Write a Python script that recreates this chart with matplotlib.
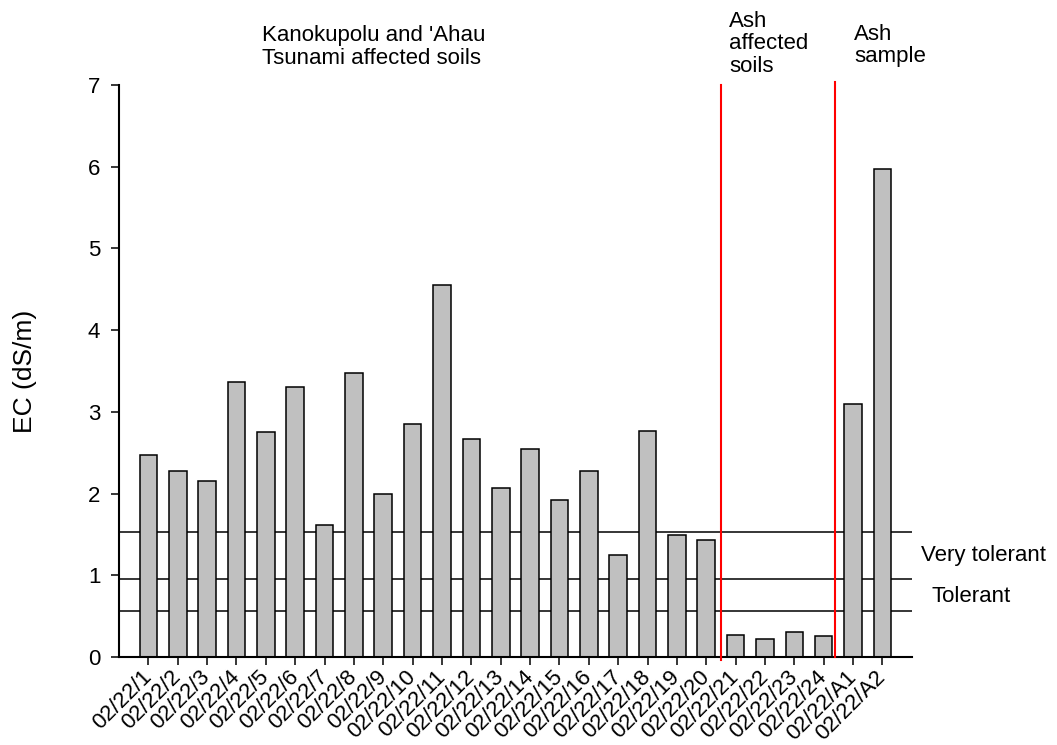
import matplotlib
matplotlib.use("Agg")
import matplotlib.pyplot as plt

plt.rcParams['font.family'] = ['Liberation Sans', 'DejaVu Sans']

samples = ["02/22/1", "02/22/2", "02/22/3", "02/22/4", "02/22/5", "02/22/6",
           "02/22/7", "02/22/8", "02/22/9", "02/22/10", "02/22/11", "02/22/12",
           "02/22/13", "02/22/14", "02/22/15", "02/22/16", "02/22/17", "02/22/18",
           "02/22/19", "02/22/20", "02/22/21", "02/22/22", "02/22/23", "02/22/24",
           "02/22/A1", "02/22/A2"]
ec = [2.47, 2.27, 2.15, 3.36, 2.75, 3.30, 1.61, 3.48, 1.99, 2.85, 4.55, 2.67,
      2.07, 2.54, 1.92, 2.27, 1.25, 2.77, 1.49, 1.43, 0.27, 0.22, 0.31, 0.26,
      3.09, 5.97]

# salt tolerance thresholds (dS/m)
thresholds = [1.53, 0.96, 0.56]
# group separators, between sample positions
separators = [19.49, 23.37]

fig = plt.figure(figsize=(10.57, 7.45), dpi=100)
ax = fig.add_axes([0.1126, 0.1181, 0.750, 0.768])

x = list(range(len(samples)))
ax.bar(x, ec, width=0.6, color='#c0c0c0', edgecolor='black', linewidth=1.1, zorder=2)

for t in thresholds:
    ax.axhline(t, color='black', linewidth=1.1, zorder=1)

ax.plot([separators[0]] * 2, [-0.04, 7.0], color='red', linewidth=1.5, clip_on=False, zorder=3)
ax.plot([separators[1]] * 2, [0.0, 7.03], color='red', linewidth=1.5, clip_on=False, zorder=3)

ax.set_xlim(-1.0, 26.0)
ax.set_ylim(0, 7)
ax.set_yticks(range(8))
ax.set_xticks(x)
ax.set_xticklabels(samples, rotation=45, ha='right', va='center', rotation_mode='anchor')

for side in ['top', 'right']:
    ax.spines[side].set_visible(False)
for side in ['left', 'bottom']:
    ax.spines[side].set_linewidth(1.5)

ax.tick_params(axis='y', labelsize=16, length=6, width=1.1, pad=7.5)
ax.tick_params(axis='x', labelsize=16, length=6, width=1.1, pad=6)

ax.set_ylabel("EC (dS/m)", fontsize=19)
ax.yaxis.set_label_coords(-0.1034, 0.5)

fig.text(0.2476, 0.9658, "Kanokupolu and 'Ahau\nTsunami affected soils",
         fontsize=16, ha='left', va='top', linespacing=1.1)
fig.text(0.6897, 0.9859, "Ash\naffected\nsoils", fontsize=16, ha='left', va='top', linespacing=1.1)
fig.text(0.808, 0.968, "Ash\nsample", fontsize=16, ha='left', va='top', linespacing=1.1)
fig.text(0.8713, 0.2474, "Very tolerant", fontsize=16, ha='left', va='baseline')
fig.text(0.8808, 0.1923, "Tolerant", fontsize=16, ha='left', va='baseline')

fig.savefig("out.png", dpi=100)
